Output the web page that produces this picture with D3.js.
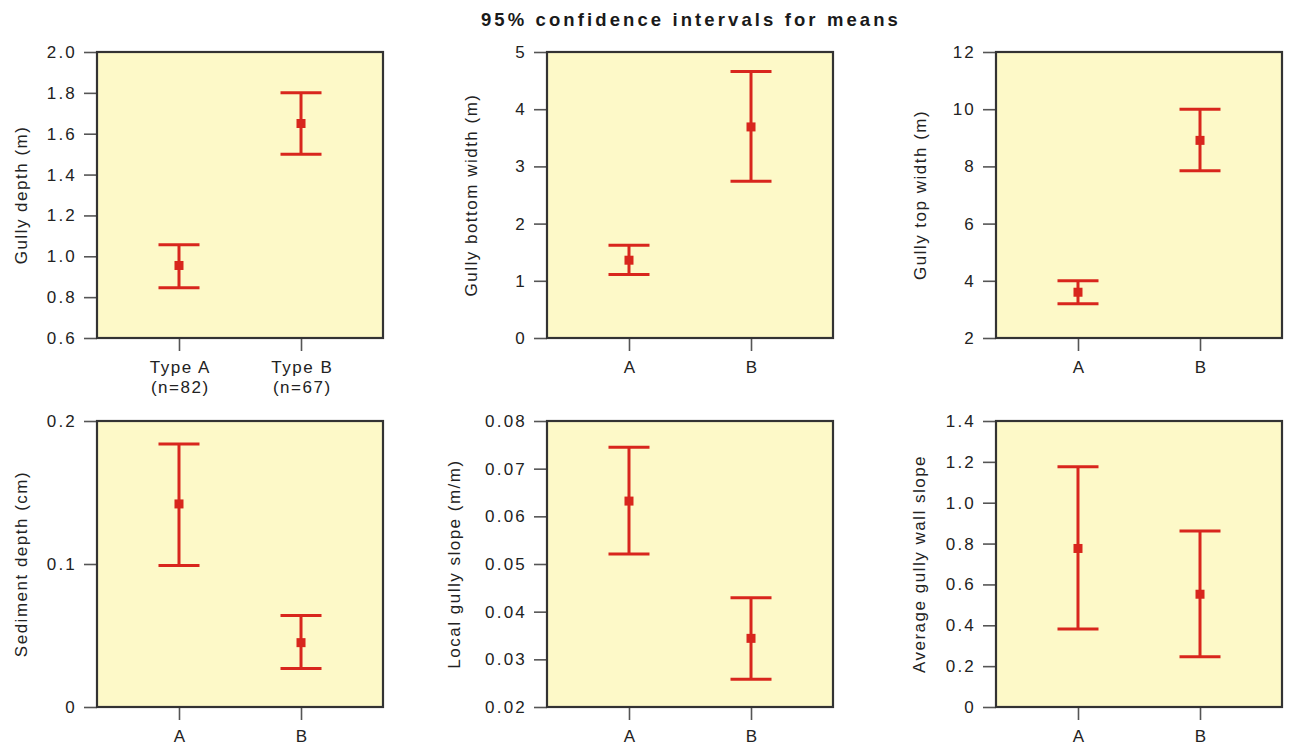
<!DOCTYPE html>
<html>
<head>
<meta charset="utf-8">
<script src="https://cdn.jsdelivr.net/npm/d3@7"></script>
<style>
  html, body { margin: 0; padding: 0; background: #ffffff; }
  svg { display: block; font-family: "Liberation Sans", Arial, Helvetica, sans-serif; }
</style>
</head>
<body>
<svg id="chart" width="1293" height="747"></svg>
<script>
// Gully survey: 95% confidence intervals for the means of two gully types
const chartTitle = "95% confidence intervals for means";
const groups = ["A", "B"];
const yTitles = [
  "Gully depth (m)",
  "Gully bottom width (m)",
  "Gully top width (m)",
  "Sediment depth (cm)",
  "Local gully slope (m/m)",
  "Average gully wall slope"
];
const yDomains = [[0.6, 2.0], [0, 5], [2, 12], [0, 0.2], [0.02, 0.08], [0, 1.4]];
const yTicks = [
  [0.6, 0.8, 1.0, 1.2, 1.4, 1.6, 1.8, 2.0],
  [0, 1, 2, 3, 4, 5],
  [2, 4, 6, 8, 10, 12],
  [0, 0.1, 0.2],
  [0.02, 0.03, 0.04, 0.05, 0.06, 0.07, 0.08],
  [0, 0.2, 0.4, 0.6, 0.8, 1.0, 1.2, 1.4]
];
const yTickLabels = [
  ["0.6", "0.8", "1.0", "1.2", "1.4", "1.6", "1.8", "2.0"],
  ["0", "1", "2", "3", "4", "5"],
  ["2", "4", "6", "8", "10", "12"],
  ["0", "0.1", "0.2"],
  ["0.02", "0.03", "0.04", "0.05", "0.06", "0.07", "0.08"],
  ["0", "0.2", "0.4", "0.6", "0.8", "1.0", "1.2", "1.4"]
];
// x tick labels: the first panel also gives sample sizes
const xTickLabels = [
  [["Type A", "(n=82)"], ["Type B", "(n=67)"]],
  [["A"], ["B"]],
  [["A"], ["B"]],
  [["A"], ["B"]],
  [["A"], ["B"]],
  [["A"], ["B"]]
];
// means and interval bounds, type A
const meanA = [0.955, 1.36, 3.60, 0.142, 0.0632, 0.776];
const lowA  = [0.846, 1.11, 3.20, 0.099, 0.0521, 0.382];
const highA = [1.056, 1.62, 4.00, 0.184, 0.0745, 1.176];
// means and interval bounds, type B
const meanB = [1.65, 3.69, 8.91, 0.045, 0.0344, 0.552];
const lowB  = [1.50, 2.74, 7.85, 0.027, 0.0258, 0.246];
const highB = [1.80, 4.66, 10.0, 0.064, 0.0429, 0.862];

// layout
const plotW = 286, plotH = 286;
const colX = [97, 547, 996];
const rowY = [52, 421];
const labelX = [21, 471, 920];
const labelX2 = [21, 454, 919];

const red = "#d8261d";
const bg = "#fdf9c8";
const frame = "#333333";
const ink = "#222222";
const fontSize = 17;
const tickSpacing = 2.2;
const titleSpacing = 1.5;

const svg = d3.select("#chart");

svg.append("text")
  .attr("x", 691).attr("y", 26)
  .attr("text-anchor", "middle")
  .attr("font-size", 18.5).attr("font-weight", "bold")
  .attr("letter-spacing", 3.1)
  .attr("fill", "#1a1a1a")
  .text(chartTitle);

yTitles.forEach((title, i) => {
  const row = Math.floor(i / 3), col = i % 3;
  const left = colX[col], top = rowY[row];
  const g = svg.append("g").attr("transform", `translate(${left},${top})`);

  const x = d3.scalePoint().domain(groups).range([0, plotW]).padding(0.672);
  const y = d3.scaleLinear().domain(yDomains[i]).range([plotH, 0]);

  g.append("rect")
    .attr("x", 0).attr("y", 0).attr("width", plotW).attr("height", plotH)
    .attr("fill", bg);

  // y axis
  const yAxis = d3.axisLeft(y)
    .tickValues(yTicks[i])
    .tickFormat((d, k) => yTickLabels[i][k])
    .tickSize(13).tickPadding(7).tickSizeOuter(0);
  const ya = g.append("g").call(yAxis);
  ya.select(".domain").remove();
  ya.selectAll(".tick line").attr("stroke", "#555").attr("stroke-width", 1.6);
  ya.selectAll(".tick text")
    .attr("font-size", fontSize).attr("fill", ink)
    .attr("letter-spacing", tickSpacing)
    .attr("font-family", "Liberation Sans, Arial, sans-serif");

  // x axis
  const xAxis = d3.axisBottom(x).tickSize(13).tickSizeOuter(0).tickFormat("");
  const xa = g.append("g").attr("transform", `translate(0,${plotH})`).call(xAxis);
  xa.select(".domain").remove();
  xa.selectAll(".tick line").attr("stroke", "#555").attr("stroke-width", 1.6);
  xa.selectAll(".tick").each(function (d, k) {
    const lines = xTickLabels[i][k];
    const t = d3.select(this).append("text")
      .attr("text-anchor", "middle")
      .attr("font-size", fontSize).attr("fill", ink)
      .attr("letter-spacing", titleSpacing)
      .attr("font-family", "Liberation Sans, Arial, sans-serif");
    lines.forEach((s, m) => {
      t.append("tspan").attr("x", titleSpacing / 2).attr("y", 35 + m * 20).text(s);
    });
  });

  // frame
  g.append("rect")
    .attr("x", 0).attr("y", 0).attr("width", plotW).attr("height", plotH)
    .attr("fill", "none").attr("stroke", frame).attr("stroke-width", 2.2);

  // y axis title
  const lx = row === 0 ? labelX[col] : labelX2[col];
  svg.append("text")
    .attr("transform", `translate(${lx},${top + plotH / 2}) rotate(-90)`)
    .attr("text-anchor", "middle").attr("dominant-baseline", "central")
    .attr("font-size", fontSize).attr("fill", ink)
    .attr("letter-spacing", titleSpacing)
    .text(title);

  // intervals
  const rows = [
    { g: groups[0], mean: meanA[i], low: lowA[i], high: highA[i] },
    { g: groups[1], mean: meanB[i], low: lowB[i], high: highB[i] }
  ];
  const capHalf = 20.5;
  const iv = g.append("g").attr("stroke", red).attr("stroke-width", 3).attr("fill", "none");
  rows.forEach(r => {
    const cx = x(r.g);
    iv.append("line").attr("x1", cx).attr("x2", cx).attr("y1", y(r.low)).attr("y2", y(r.high));
    iv.append("line").attr("x1", cx - capHalf).attr("x2", cx + capHalf).attr("y1", y(r.high)).attr("y2", y(r.high));
    iv.append("line").attr("x1", cx - capHalf).attr("x2", cx + capHalf).attr("y1", y(r.low)).attr("y2", y(r.low));
  });
  g.selectAll("rect.mean").data(rows).enter().append("rect")
    .attr("class", "mean")
    .attr("x", d => x(d.g) - 4.5).attr("y", d => y(d.mean) - 4.5)
    .attr("width", 9).attr("height", 9)
    .attr("fill", red);
});
</script>
</body>
</html>
